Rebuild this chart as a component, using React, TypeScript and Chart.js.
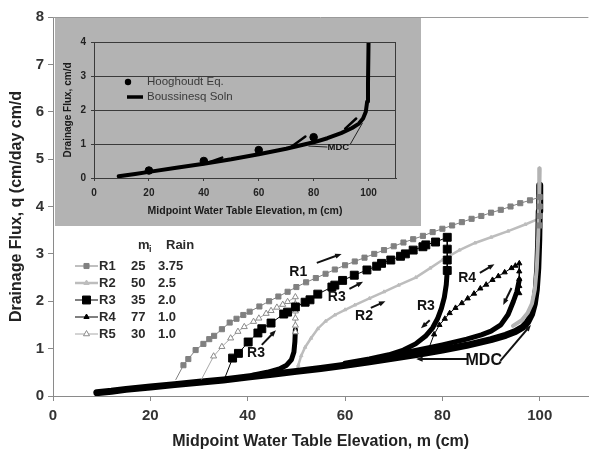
import React, { useEffect, useRef } from 'react';
import { Chart, registerables } from 'chart.js';
Chart.register(...registerables);

type P = [number, number];
const FONT = 'Arial, "Liberation Sans", Helvetica, sans-serif';

// ---------- main chart data ----------
const xTickValues = [0, 20, 40, 60, 80, 100];
const mdc: P[] = [[9,0.07],[12,0.1],[15,0.14],[20,0.19],[25,0.24],[30,0.29],[35,0.34],[40,0.4],[45,0.46],[50,0.52],[55,0.58],[60,0.65],[65,0.72],[70,0.8],[75,0.88],[80,0.97],[85,1.07],[90,1.19],[93,1.28],[95,1.36],[96.5,1.45],[97.5,1.56],[98.3,1.72],[98.9,1.95],[99.3,2.25],[99.6,2.7],[99.8,3.3],[99.9,3.9],[100,4.45]];
const r1: P[] = [[25.2,0.34],[26.8,0.65],[27.8,0.78],[29.3,0.97],[30.9,1.1],[32.1,1.2],[33.1,1.27],[34.7,1.41],[36.3,1.55],[37.7,1.63],[39.1,1.71],[40.4,1.78],[42.4,1.89],[44.4,2.0],[46.3,2.1],[48.2,2.2],[50,2.3],[52,2.4],[54,2.49],[56,2.58],[57.9,2.67],[60,2.76],[62,2.84],[64,2.92],[66,3.0],[68,3.08],[70,3.16],[72,3.24],[74,3.31],[76,3.38],[78,3.46],[80,3.53],[82,3.6],[84,3.67],[86,3.74],[88,3.8],[90,3.87],[92,3.93],[94,4.0],[96,4.07],[98,4.13],[100,4.2],[100,4.0],[100,3.8],[100,3.6]];
const r2: P[] = [[50,0.5],[50.4,0.65],[51,0.85],[51.8,1.03],[53,1.22],[54.4,1.42],[56,1.58],[57.9,1.71],[60,1.82],[62,1.92],[65,2.06],[68,2.2],[71,2.34],[74.5,2.5],[77.5,2.7],[80,2.87],[83.5,3.08],[86.7,3.23],[90,3.35],[93.5,3.48],[97,3.62],[100,3.75]];
const r3: P[] = [[35.3,0.38],[36.9,0.8],[38.1,0.9],[40.1,1.14],[42.1,1.33],[42.9,1.42],[44.8,1.54],[47.4,1.73],[48.2,1.77],[49.8,1.88],[51.8,1.98],[52.8,2.03],[54.4,2.15],[57.3,2.3],[57.9,2.34],[59.5,2.44],[61.9,2.55],[64.5,2.66],[66.5,2.74],[67.5,2.8],[69.4,2.87],[71.4,2.95],[72.4,3.0],[74,3.08],[76,3.15],[76.6,3.19],[78.6,3.25],[81,3.35],[81,3.1],[81,2.87],[81,2.65]];
const r4: P[] = [[77,0.95],[78.3,1.3],[79.4,1.5],[80.5,1.63],[81.5,1.75],[82.7,1.86],[84,1.96],[85.2,2.06],[86.5,2.16],[87.8,2.27],[89,2.35],[90.3,2.45],[91.5,2.53],[92.8,2.61],[94.2,2.7],[95,2.75],[95.8,2.8],[95.8,2.63],[95.8,2.47],[95.8,2.32],[95.8,2.17]];
const r5: P[] = [[30.5,0.35],[33,0.84],[34.7,1.04],[36.5,1.22],[38,1.36],[39.3,1.46],[41.2,1.57],[42.3,1.64],[43.8,1.74],[44.8,1.8],[46,1.87],[47.2,1.93],[48.2,1.99],[49.8,2.09],[49.8,1.94],[49.8,1.79],[49.8,1.64],[49.8,1.49],[49.8,1.35]];
const declineR5: P[] = [[49.8,1.4],[49.7,1.15],[49.5,0.93],[49,0.77],[48,0.65],[46.5,0.57],[44,0.5],[41,0.44]];
const declineR3: P[] = [[81,2.65],[80.8,2.35],[80.4,2.08],[79.8,1.85],[79,1.63],[78,1.44],[76.5,1.26],[74.5,1.1],[72,0.97],[69,0.87],[65,0.78],[60,0.69]];
const declineR4: P[] = [[95.8,2.45],[95.3,2.2],[94.6,2.0],[93.5,1.72],[92,1.5],[90,1.37],[88,1.29],[85,1.2],[80,1.08],[75,0.97],[70,0.87]];
const declineTop: P[] = [[100,4.8],[99.9,4.2],[99.7,3.4],[99.4,2.7],[99,2.25],[98.4,1.95],[97.5,1.75],[96.3,1.6],[94.5,1.48]];

const legendNames = ['R1', 'R2', 'R3', 'R4', 'R5'];
const legendMi = ['25', '50', '35', '77', '30'];
const legendRain = ['3.75', '2.5', '2.0', '1.0', '1.0'];

const annoLabels: { t: string; x: number; y: number }[] = [
  { t: 'R1', x: 50.4, y: 2.62 },
  { t: 'R3', x: 58.3, y: 2.09 },
  { t: 'R2', x: 63.9, y: 1.69 },
  { t: 'R3', x: 76.6, y: 1.9 },
  { t: 'R4', x: 85.1, y: 2.49 },
  { t: 'MDC', x: 88.5, y: 0.74 },
  { t: 'R3', x: 41.7, y: 0.91 },
];
const annoArrows: [number, number, number, number, boolean][] = [
  [54.2, 2.81, 59.3, 3.0, true],
  [60.9, 2.26, 63.7, 2.41, true],
  [65.3, 1.86, 68.3, 2.0, true],
  [77.4, 1.6, 75.6, 1.43, true],
  [87.7, 2.6, 90.7, 2.78, true],
  [94.2, 2.28, 92.5, 1.92, true],
  [85.1, 0.78, 74.6, 0.78, true],
  [91.9, 0.74, 98.2, 1.5, true],
  [42.9, 1.08, 45.8, 1.39, true],
];

// ---------- inset data ----------
const insetXTickValues = [0, 20, 40, 60, 80, 100];
const boussinesq: P[] = [[9,0.05],[15,0.12],[20,0.18],[30,0.3],[40,0.42],[50,0.55],[60,0.7],[70,0.86],[80,1.05],[85,1.17],[90,1.32],[94,1.47],[96.5,1.6],[98,1.75],[99,1.95],[99.5,2.25],[99.8,2.8],[100,4]];
const hooghoudt: P[] = [[20,0.22],[40,0.5],[60,0.82],[80,1.2]];
const branchA: P[] = [[41.5,0.45],[46.7,0.6]];
const branchB: P[] = [[71.5,0.9],[77,1.22]];
const branchC: P[] = [[91.5,1.45],[95.5,1.75]];

const pts = (a: P[]) => a.map(([x, y]) => ({ x, y }));

function arrow(ctx: CanvasRenderingContext2D, x1: number, y1: number, x2: number, y2: number, lw: number, head: number, withHead: boolean) {
  ctx.save();
  ctx.strokeStyle = '#111';
  ctx.fillStyle = '#111';
  ctx.lineWidth = lw;
  const a = Math.atan2(y2 - y1, x2 - x1);
  const ex = withHead ? x2 - Math.cos(a) * head * 0.8 : x2;
  const ey = withHead ? y2 - Math.sin(a) * head * 0.8 : y2;
  ctx.beginPath();
  ctx.moveTo(x1, y1);
  ctx.lineTo(ex, ey);
  ctx.stroke();
  if (withHead) {
    ctx.beginPath();
    ctx.moveTo(x2, y2);
    ctx.lineTo(x2 - head * Math.cos(a - 0.38), y2 - head * Math.sin(a - 0.38));
    ctx.lineTo(x2 - head * Math.cos(a + 0.38), y2 - head * Math.sin(a + 0.38));
    ctx.closePath();
    ctx.fill();
  }
  ctx.restore();
}

function marker(ctx: CanvasRenderingContext2D, kind: string, x: number, y: number, r: number, fill: string, stroke: string) {
  ctx.save();
  ctx.fillStyle = fill;
  ctx.strokeStyle = stroke;
  ctx.lineWidth = 1;
  ctx.beginPath();
  if (kind === 'rect') {
    const s = r * Math.SQRT1_2;
    ctx.rect(x - s, y - s, 2 * s, 2 * s);
  } else {
    ctx.moveTo(x, y - r);
    ctx.lineTo(x + r * 0.866, y + r * 0.5);
    ctx.lineTo(x - r * 0.866, y + r * 0.5);
    ctx.closePath();
  }
  ctx.fill();
  ctx.stroke();
  ctx.restore();
}

const seriesStyles = [
  { line: '#808080', lw: 1, kind: 'rect', r: 3.6, fill: '#808080', stroke: '#808080' },
  { line: '#bdbdbd', lw: 2.5, kind: 'triangle', r: 2, fill: '#bdbdbd', stroke: '#bdbdbd' },
  { line: '#000000', lw: 1, kind: 'rect', r: 5.6, fill: '#000000', stroke: '#000000' },
  { line: '#000000', lw: 1, kind: 'triangle', r: 3, fill: '#000000', stroke: '#000000' },
  { line: '#a8a8a8', lw: 1, kind: 'triangle', r: 3.5, fill: '#ffffff', stroke: '#8a8a8a' },
];

const mainPlugin = {
  id: 'mainDecor',
  afterDatasetsDraw(chart: any) {
    const ctx: CanvasRenderingContext2D = chart.ctx;
    const { chartArea } = chart;
    const xs = chart.scales.x;
    const ys = chart.scales.y;
    ctx.save();
    ctx.strokeStyle = '#9a9a9a';
    ctx.lineWidth = 1;
    ctx.beginPath();
    ctx.moveTo(chartArea.left, chartArea.top + 0.5);
    ctx.lineTo(chartArea.right, chartArea.top + 0.5);
    ctx.stroke();
    ctx.restore();

    annoArrows.forEach(([x1, y1, x2, y2, h]) => {
      arrow(ctx, xs.getPixelForValue(x1), ys.getPixelForValue(y1), xs.getPixelForValue(x2), ys.getPixelForValue(y2), 2, 7, h);
    });
    ctx.save();
    ctx.fillStyle = '#111';
    ctx.textAlign = 'center';
    ctx.textBaseline = 'middle';
    annoLabels.forEach((l) => {
      ctx.font = `bold ${l.t === 'MDC' ? 16 : 14}px ${FONT}`;
      ctx.fillText(l.t, xs.getPixelForValue(l.x), ys.getPixelForValue(l.y));
    });
    ctx.restore();

    // legend table
    ctx.save();
    ctx.fillStyle = '#2a2a2a';
    ctx.textBaseline = 'middle';
    ctx.font = `bold 13px ${FONT}`;
    ctx.textAlign = 'left';
    ctx.fillText('m', 138, 245);
    ctx.font = `bold 9px ${FONT}`;
    ctx.fillText('i', 149, 250);
    ctx.font = `bold 13px ${FONT}`;
    ctx.fillText('Rain', 166, 245);
    const rowY = [266, 283, 300, 317, 334];
    legendNames.forEach((n, i) => {
      const st = seriesStyles[i];
      const y = rowY[i];
      ctx.save();
      ctx.strokeStyle = st.line;
      ctx.lineWidth = st.lw;
      ctx.beginPath();
      ctx.moveTo(75, y);
      ctx.lineTo(98, y);
      ctx.stroke();
      ctx.restore();
      marker(ctx, st.kind, 86.5, y, st.kind === 'rect' ? st.r : Math.max(st.r, 3), st.fill, st.stroke);
      ctx.fillStyle = '#2a2a2a';
      ctx.font = `bold 13px ${FONT}`;
      ctx.fillText(n, 99, y);
      ctx.fillText(legendMi[i], 131, y);
      ctx.fillText(legendRain[i], 158, y);
    });
    ctx.restore();
  },
};

const insetPlugin = {
  id: 'insetDecor',
  afterDatasetsDraw(chart: any) {
    const ctx: CanvasRenderingContext2D = chart.ctx;
    const { chartArea } = chart;
    const xs = chart.scales.x;
    const ys = chart.scales.y;
    ctx.save();
    ctx.strokeStyle = '#3a3a3a';
    ctx.lineWidth = 1;
    ctx.strokeRect(chartArea.left + 0.5, chartArea.top + 0.5, chartArea.right - chartArea.left - 1, chartArea.bottom - chartArea.top);
    ctx.restore();

    // legend
    ctx.save();
    ctx.fillStyle = '#000';
    ctx.beginPath();
    ctx.arc(73, 64, 3.2, 0, Math.PI * 2);
    ctx.fill();
    ctx.strokeStyle = '#000';
    ctx.lineWidth = 3.5;
    ctx.beginPath();
    ctx.moveTo(72, 79);
    ctx.lineTo(88, 79);
    ctx.stroke();
    ctx.fillStyle = '#3a3a3a';
    ctx.font = `11.5px ${FONT}`;
    ctx.textBaseline = 'middle';
    ctx.textAlign = 'left';
    ctx.fillText('Hooghoudt Eq.', 92, 64);
    ctx.fillText('Boussinesq Soln', 92, 79);
    ctx.restore();

    // MDC annotation
    const px = (v: number) => xs.getPixelForValue(v);
    const py = (v: number) => ys.getPixelForValue(v);
    ctx.save();
    ctx.strokeStyle = '#222';
    ctx.lineWidth = 1;
    ctx.beginPath();
    ctx.moveTo(px(85), py(0.91));
    ctx.lineTo(px(78.1), py(0.94));
    ctx.moveTo(px(93.4), py(1.0));
    ctx.lineTo(px(97.8), py(1.62));
    ctx.stroke();
    ctx.fillStyle = '#111';
    ctx.font = `bold 9.5px ${FONT}`;
    ctx.textAlign = 'center';
    ctx.textBaseline = 'middle';
    ctx.fillText('MDC', px(89), py(0.9));
    ctx.restore();
  },
};

export default function App() {
  const mainRef = useRef<HTMLCanvasElement>(null);
  const insetRef = useRef<HTMLCanvasElement>(null);

  useEffect(() => {
    if (!mainRef.current || !insetRef.current) return;
    const ptRadius = (r: number) => (c: any) => (c.dataIndex === 0 ? 0 : r);
    const seriesDs = (data: P[], i: number, order: number) => {
      const st = seriesStyles[i];
      return {
        data: pts(data),
        showLine: true,
        borderColor: st.line,
        borderWidth: st.lw,
        pointStyle: st.kind,
        pointRadius: ptRadius(st.r),
        pointBackgroundColor: st.fill,
        pointBorderColor: st.stroke,
        pointBorderWidth: 1,
        tension: 0,
        order,
      };
    };
    const thick = (data: P[], color: string, w: number, order: number) => ({
      data: pts(data),
      showLine: true,
      borderColor: color,
      borderWidth: w,
      pointRadius: 0,
      borderJoinStyle: 'round',
      borderCapStyle: 'round',
      tension: 0,
      order,
    });

    const main = new Chart(mainRef.current, {
      type: 'scatter',
      data: {
        datasets: [
          seriesDs(r1, 0, 1),
          seriesDs(r3, 2, 2),
          seriesDs(r4, 3, 3),
          seriesDs(r5, 4, 4),
          thick(declineR4, '#000', 5, 5),
          thick(declineR3, '#000', 5, 5),
          thick(declineR5, '#000', 5, 5),
          thick(declineTop, '#b3b3b3', 4, 6),
          thick(mdc, '#000', 7, 7),
          seriesDs(r2, 1, 8),
        ] as any,
      },
      options: {
        animation: false,
        responsive: false,
        maintainAspectRatio: false,
        layout: { padding: { top: 17, right: 0, left: 0, bottom: 0 } },
        plugins: { legend: { display: false }, tooltip: { enabled: false } },
        scales: {
          x: {
            type: 'linear',
            min: 0,
            max: 110,
            afterBuildTicks: (s: any) => {
              s.ticks = xTickValues.map((v) => ({ value: v }));
            },
            afterFit: (s: any) => {
              s.height = 55;
            },
            ticks: { font: { family: FONT, size: 15, weight: 'bold' }, color: '#333', padding: 6 },
            grid: { drawOnChartArea: false, tickLength: 5, color: '#8a8a8a' },
            border: { color: '#8a8a8a' },
            title: {
              display: true,
              text: 'Midpoint Water Table Elevation, m (cm)',
              font: { family: FONT, size: 16, weight: 'bold' },
              color: '#222',
              padding: { top: 0, bottom: 0 },
            },
          },
          y: {
            type: 'linear',
            min: 0,
            max: 8,
            ticks: { stepSize: 1, font: { family: FONT, size: 15, weight: 'bold' }, color: '#333', padding: 4 },
            afterFit: (s: any) => {
              s.width = 53;
            },
            grid: { drawOnChartArea: false, tickLength: 5, color: '#8a8a8a' },
            border: { color: '#8a8a8a' },
            title: {
              display: true,
              text: 'Drainage Flux, q (cm/day cm/d',
              font: { family: FONT, size: 16, weight: 'bold' },
              color: '#222',
              padding: { top: 7, bottom: 0 },
            },
          },
        },
      } as any,
      plugins: [mainPlugin],
    });

    const inset = new Chart(insetRef.current, {
      type: 'scatter',
      data: {
        datasets: [
          {
            data: pts(hooghoudt),
            showLine: false,
            pointRadius: 3.8,
            pointBackgroundColor: '#000',
            pointBorderColor: '#000',
            order: 1,
          },
          thick(boussinesq, '#000', 4, 2),
          thick(branchA, '#000', 2.5, 3),
          thick(branchB, '#000', 2.5, 3),
          thick(branchC, '#000', 2.5, 3),
        ] as any,
      },
      options: {
        animation: false,
        responsive: false,
        maintainAspectRatio: false,
        layout: { padding: { top: 24, right: 25, left: 0, bottom: 0 } },
        plugins: { legend: { display: false }, tooltip: { enabled: false } },
        scales: {
          x: {
            type: 'linear',
            min: 0,
            max: 110,
            afterBuildTicks: (s: any) => {
              s.ticks = insetXTickValues.map((v) => ({ value: v }));
            },
            afterFit: (s: any) => {
              s.height = 48;
            },
            ticks: { font: { family: FONT, size: 10, weight: 'bold' }, color: '#222', padding: 6 },
            grid: { drawOnChartArea: false, tickLength: 3, color: '#3a3a3a' },
            border: { color: '#3a3a3a' },
            title: {
              display: true,
              text: 'Midpoint Water Table Elevation, m (cm)',
              font: { family: FONT, size: 10.5, weight: 'bold' },
              color: '#1a1a1a',
              padding: { top: 0, bottom: 9 },
            },
          },
          y: {
            type: 'linear',
            min: 0,
            max: 4,
            ticks: { stepSize: 1, font: { family: FONT, size: 10, weight: 'bold' }, color: '#222', padding: 5 },
            afterFit: (s: any) => {
              s.width = 39;
            },
            grid: { color: '#3a3a3a', tickLength: 3 },
            border: { color: '#3a3a3a' },
            title: {
              display: true,
              text: 'Drainage Flux, cm/d',
              font: { family: FONT, size: 10, weight: 'bold' },
              color: '#1a1a1a',
              padding: { top: 7, bottom: 0 },
            },
          },
        },
      } as any,
      plugins: [insetPlugin],
    });

    return () => {
      main.destroy();
      inset.destroy();
    };
  }, []);

  return (
    <div style={{ position: 'absolute', left: 0, top: 0, width: 595, height: 451, background: '#fff' }}>
      <canvas ref={mainRef} width={595} height={451} style={{ position: 'absolute', left: 0, top: 0, width: 595, height: 451 }} />
      <canvas ref={insetRef} width={366} height={208} style={{ position: 'absolute', left: 55, top: 18, width: 366, height: 208, background: '#b3b3b3' }} />
    </div>
  );
}
